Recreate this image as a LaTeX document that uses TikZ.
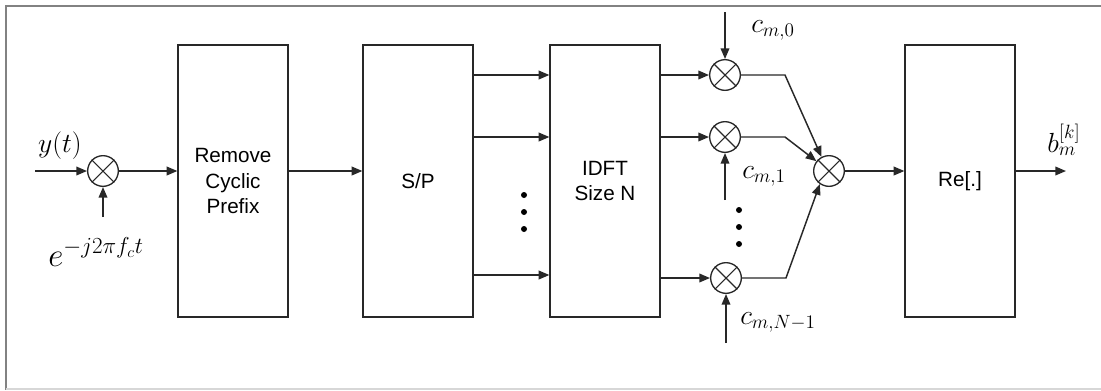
\documentclass[tikz,border=0pt]{standalone}
\usepackage{amsmath}
\usepackage{fontspec}
\usetikzlibrary{positioning, arrows.meta}
\newfontfamily\boxfont{Liberation Sans}
\definecolor{FrameGray}{RGB}{130, 130, 130}
\definecolor{EdgeGray}{RGB}{215, 215, 215}
\definecolor{LineDark}{RGB}{40, 40, 40}

\begin{document}
\begin{tikzpicture}[x=0.75pt, y=-0.75pt,
    blk/.style={draw=LineDark, line width=1.4pt, minimum width=82pt, minimum height=204pt,
                align=center, font=\boxfont\fontsize{15.5}{18.8}\selectfont},
    mixer/.style={circle, draw=LineDark, line width=1pt, inner sep=0pt, minimum size=23pt},
    arr/.style={-{Triangle[length=8pt,width=6.5pt]}, line width=1.1pt, LineDark},
    lab/.style={inner sep=0pt, font=\fontsize{22}{26}\selectfont},
    dot/.style={circle, fill=black, inner sep=0pt, minimum size=4.5pt}]
      \useasboundingbox (0,0) rectangle (1101,390);

      % Frame
      \draw[FrameGray, line width=2pt] (1101,6) -- (6,6) -- (6,390);
      \draw[EdgeGray, line width=1.5pt] (6,389) -- (1101,389);

      % Blocks
      \node[blk] (rcp) at (233,181) {Remove\\Cyclic\\Prefix};
      \node[blk] (sp) at (418,181) {S/P};
      \node[blk] (idft) at (605,181) {IDFT\\Size N};
      \node[blk] (re) at (960,181) {Re[.]};

      % Mixers
      \node[mixer] (mix) at (103,171) {};
      \node[mixer] (m0) at (725,75) {};
      \node[mixer] (m1) at (725,137) {};
      \node[mixer] (mN) at (726,278) {};
      \node[mixer] (sum) at (829,171) {};
      \foreach \m in {mix, m0, m1, mN, sum} {
        \draw[line width=0.8pt, LineDark] (\m.north west) -- (\m.south east)
                                          (\m.north east) -- (\m.south west);
      }

      % Input side
      \coordinate (yin) at (35,171);
      \coordinate (eup) at (103,217);
      \draw[arr] (yin) -- (mix.west);
      \draw[arr] (eup) -- (mix.south);
      \node[lab] (ylab) at (60,146) {$y(t)$};
      \node[lab, font=\fontsize{24}{28}\selectfont] (elab) at (96,252) {$e^{-j2\pi f_c t}$};
      \draw[arr] (mix.east) -- (rcp.west |- mix);
      \draw[arr] (rcp.east |- mix) -- (sp.west |- mix);

      % S/P to IDFT
      \foreach \y in {75, 137, 275} {
        \draw[arr] (sp.east |- 0,\y) -- (idft.west |- 0,\y);
      }
      \foreach \y [count=\i] in {195, 212, 229} {
        \node[dot] (spd\i) at (524,\y) {};
      }

      % IDFT to mixers
      \foreach \m in {m0, m1, mN} {
        \draw[arr] (idft.east |- \m) -- (\m.west);
      }

      % Spreading codes
      \coordinate (c0top) at (725,12);
      \coordinate (c1bot) at (725,200);
      \coordinate (cNbot) at (726,343);
      \draw[arr] (c0top) -- (m0.north);
      \draw[arr] (c1bot) -- (m1.south);
      \draw[arr] (cNbot) -- (mN.south);
      \node[lab] (c0lab) at (773,30) {$c_{m,0}$};
      \node[lab] (c1lab) at (764,176) {$c_{m,1}$};
      \node[lab] (cNlab) at (778,322) {$c_{m,N-1}$};
      \foreach \y [count=\i] in {210, 227, 244} {
        \node[dot] (cd\i) at (739,\y) {};
      }

      % Combining
      \draw[arr] (m0.east) -- ++(44,0) -- (sum.118);
      \draw[arr] (m1.east) -- ++(44,0) -- (sum.142);
      \draw[arr] (mN.east) -- ++(44,0) -- (sum.235);
      \draw[arr] (sum.east) -- (re.west |- sum);

      % Output
      \coordinate (bout) at (1066,171);
      \draw[arr] (re.east |- sum) -- (bout);
      \node[lab] (blab) at (1064,140) {$b^{[k]}_{m}$};
\end{tikzpicture}
\end{document}
